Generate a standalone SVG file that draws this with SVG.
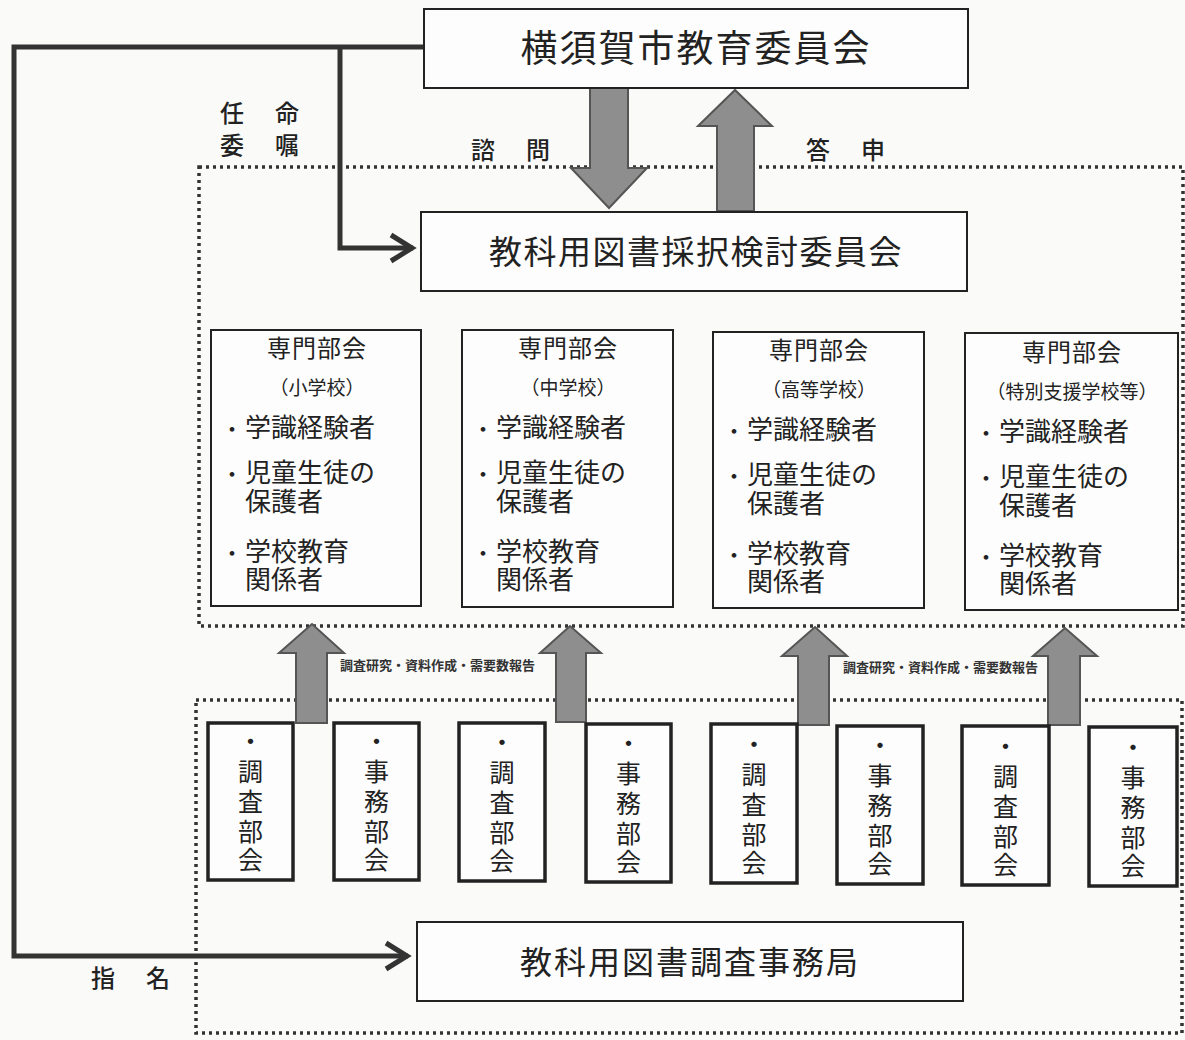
<svg xmlns="http://www.w3.org/2000/svg" width="1185" height="1040" viewBox="0 0 1185 1040">
<defs>
<style>
text{font-family:"Noto Sans CJK JP","Noto Sans CJK SC",sans-serif;fill:#222;}
.box{fill:#fdfdfd;stroke:#222;stroke-width:2;}
.vbox{fill:#fdfdfd;stroke:#222;stroke-width:3.5;}
.dot{fill:none;stroke:#333;stroke-width:3.5;stroke-dasharray:3 4;}
.line{fill:none;stroke:#333;stroke-width:5;}
.chev{fill:none;stroke:#333;stroke-width:5;stroke-linejoin:miter;}
.big{stroke:#555;stroke-width:2;fill:#8e8e8e;}
.title{font-size:37px;letter-spacing:2px;text-anchor:middle;}
.mid{font-size:33px;letter-spacing:1.5px;text-anchor:middle;}
.lab{font-size:24px;font-weight:500;text-anchor:middle;}
.hd{font-size:24px;letter-spacing:1px;text-anchor:middle;}
.sub{font-size:19px;text-anchor:middle;}
.it{font-size:26px;}
.bul{font-size:22px;text-anchor:middle;}
.v{font-size:25px;text-anchor:middle;}
.sm{font-size:13px;font-weight:700;fill:#333;}
</style>
</defs>
<rect x="0" y="0" width="1185" height="1040" fill="#fafaf9"/>

<g id="regions">
<rect class="dot" x="199" y="167" width="984" height="459"/>
<rect class="dot" x="196" y="700" width="986" height="333"/>
</g>

<g id="connectors">
<polyline class="line" points="424,47 14,47 14,956 408,956"/>
<polyline class="chev" points="386,943 407,956 386,969"/>
<polyline class="line" points="340,47 340,248 413,248"/>
<polyline class="chev" points="391,235 412,248 391,261"/>
<polygon class="big" points="590,88 628,88 628,168 647,168 609,208 571,168 590,168"/>
<polygon class="big" points="717,211 754,211 754,126 772,126 735,90 698,126 717,126"/>
<polygon class="big" points="296,723 327,723 327,653 344,653 312,624 279,653 296,653"/>
<polygon class="big" points="556,722 586,722 586,653 601,653 570,626 540,653 556,653"/>
<polygon class="big" points="798,725 829,725 829,656 847,656 815,627 782,656 798,656"/>
<polygon class="big" points="1048,725 1080,725 1080,656 1097,656 1065,628 1033,656 1048,656"/>
<text class="lab" x="232" y="122">任</text>
<text class="lab" x="287" y="122">命</text>
<text class="lab" x="232" y="154">委</text>
<text class="lab" x="287" y="154">嘱</text>
<text class="lab" x="483" y="159">諮</text>
<text class="lab" x="538" y="159">問</text>
<text class="lab" x="818" y="159">答</text>
<text class="lab" x="873" y="159">申</text>
<text class="lab" x="103" y="987">指</text>
<text class="lab" x="158" y="987">名</text>
<text class="sm" x="340" y="670">調査研究・資料作成・需要数報告</text>
<text class="sm" x="843" y="672">調査研究・資料作成・需要数報告</text>
</g>

<g id="n-board">
<rect class="box" x="424" y="9" width="544" height="79"/>
<text class="title" x="696" y="62">横須賀市教育委員会</text>
</g>

<g id="n-committee">
<rect class="box" x="421" y="212" width="546" height="79"/>
<text class="mid" x="696" y="264">教科用図書採択検討委員会</text>
</g>

<g id="n-sen1">
<rect class="box" x="211" y="330" width="210" height="276"/>
<text class="hd" x="317" y="357">専門部会</text>
<text class="sub" x="317" y="395">（小学校）</text>
<text class="bul" x="232" y="437">・</text>
<text class="it" x="245" y="437">学識経験者</text>
<text class="bul" x="232" y="482">・</text>
<text class="it" x="245" y="482">児童生徒の</text>
<text class="it" x="245" y="511">保護者</text>
<text class="bul" x="232" y="561">・</text>
<text class="it" x="245" y="561">学校教育</text>
<text class="it" x="245" y="589">関係者</text>
</g>

<g id="n-sen2">
<rect class="box" x="462" y="330" width="211" height="277"/>
<text class="hd" x="568" y="357">専門部会</text>
<text class="sub" x="568" y="395">（中学校）</text>
<text class="bul" x="483" y="437">・</text>
<text class="it" x="496" y="437">学識経験者</text>
<text class="bul" x="483" y="482">・</text>
<text class="it" x="496" y="482">児童生徒の</text>
<text class="it" x="496" y="511">保護者</text>
<text class="bul" x="483" y="561">・</text>
<text class="it" x="496" y="561">学校教育</text>
<text class="it" x="496" y="589">関係者</text>
</g>

<g id="n-sen3">
<rect class="box" x="713" y="332" width="211" height="276"/>
<text class="hd" x="819" y="359">専門部会</text>
<text class="sub" x="819" y="397">（高等学校）</text>
<text class="bul" x="734" y="439">・</text>
<text class="it" x="747" y="439">学識経験者</text>
<text class="bul" x="734" y="484">・</text>
<text class="it" x="747" y="484">児童生徒の</text>
<text class="it" x="747" y="513">保護者</text>
<text class="bul" x="734" y="563">・</text>
<text class="it" x="747" y="563">学校教育</text>
<text class="it" x="747" y="591">関係者</text>
</g>

<g id="n-sen4">
<rect class="box" x="965" y="333" width="213" height="277"/>
<text class="hd" x="1072" y="361">専門部会</text>
<text class="sub" x="1072" y="399">（特別支援学校等）</text>
<text class="bul" x="986" y="441">・</text>
<text class="it" x="999" y="441">学識経験者</text>
<text class="bul" x="986" y="486">・</text>
<text class="it" x="999" y="486">児童生徒の</text>
<text class="it" x="999" y="515">保護者</text>
<text class="bul" x="986" y="565">・</text>
<text class="it" x="999" y="565">学校教育</text>
<text class="it" x="999" y="593">関係者</text>
</g>

<g id="n-c1">
<rect class="vbox" x="208" y="723" width="85" height="157"/>
<text class="v" x="250.5" y="751">・</text>
<text class="v" x="250.5" y="781">調</text>
<text class="v" x="250.5" y="811">査</text>
<text class="v" x="250.5" y="841">部</text>
<text class="v" x="250.5" y="869">会</text>
</g>
<g id="n-j1">
<rect class="vbox" x="334" y="723" width="85" height="157"/>
<text class="v" x="376.5" y="751">・</text>
<text class="v" x="376.5" y="781">事</text>
<text class="v" x="376.5" y="811">務</text>
<text class="v" x="376.5" y="841">部</text>
<text class="v" x="376.5" y="869">会</text>
</g>
<g id="n-c2">
<rect class="vbox" x="459" y="723" width="86" height="158"/>
<text class="v" x="502" y="752">・</text>
<text class="v" x="502" y="782">調</text>
<text class="v" x="502" y="812">査</text>
<text class="v" x="502" y="842">部</text>
<text class="v" x="502" y="870">会</text>
</g>
<g id="n-j2">
<rect class="vbox" x="586" y="724" width="85" height="158"/>
<text class="v" x="628.5" y="753">・</text>
<text class="v" x="628.5" y="783">事</text>
<text class="v" x="628.5" y="813">務</text>
<text class="v" x="628.5" y="843">部</text>
<text class="v" x="628.5" y="871">会</text>
</g>
<g id="n-c3">
<rect class="vbox" x="711" y="724" width="86" height="159"/>
<text class="v" x="754" y="754">・</text>
<text class="v" x="754" y="784">調</text>
<text class="v" x="754" y="814">査</text>
<text class="v" x="754" y="844">部</text>
<text class="v" x="754" y="872">会</text>
</g>
<g id="n-j3">
<rect class="vbox" x="837" y="726" width="86" height="158"/>
<text class="v" x="880" y="755">・</text>
<text class="v" x="880" y="785">事</text>
<text class="v" x="880" y="815">務</text>
<text class="v" x="880" y="845">部</text>
<text class="v" x="880" y="873">会</text>
</g>
<g id="n-c4">
<rect class="vbox" x="962" y="726" width="87" height="159"/>
<text class="v" x="1005.5" y="756">・</text>
<text class="v" x="1005.5" y="786">調</text>
<text class="v" x="1005.5" y="816">査</text>
<text class="v" x="1005.5" y="846">部</text>
<text class="v" x="1005.5" y="874">会</text>
</g>
<g id="n-j4">
<rect class="vbox" x="1089" y="727" width="88" height="159"/>
<text class="v" x="1133" y="757">・</text>
<text class="v" x="1133" y="787">事</text>
<text class="v" x="1133" y="817">務</text>
<text class="v" x="1133" y="847">部</text>
<text class="v" x="1133" y="875">会</text>
</g>

<g id="n-office">
<rect class="box" x="417" y="922" width="546" height="79"/>
<text class="mid" x="690" y="974" style="font-size:32px;letter-spacing:2px">教科用図書調査事務局</text>
</g>
</svg>
